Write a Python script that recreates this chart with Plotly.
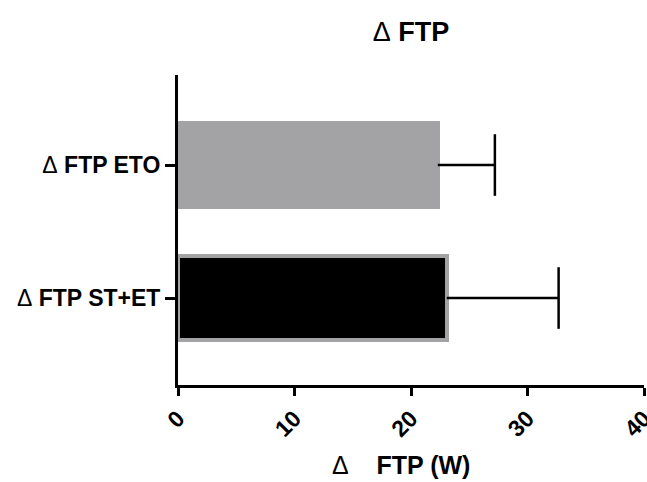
import plotly.graph_objects as go

categories = ["Δ FTP ST+ET", "Δ FTP ETO"]
values = [23.07, 22.3]
errors = [9.6, 4.9]
fills = ["#000000", "#a3a3a6"]
x_ticks = [0, 10, 20, 30, 40]
x_title = "Δ\u00a0\u00a0\u00a0\u00a0FTP (W)"

FONT = "Liberation Sans, Arial, sans-serif"
pos = list(range(len(categories)))

def lab(s):
    return s.replace("Δ", "<span style='font-weight:normal'>Δ</span>")

fig = go.Figure()
fig.add_trace(go.Bar(
    y=pos, x=values, orientation="h",
    width=[0.63] * len(pos),
    marker=dict(color=fills, line=dict(color="#a3a3a6", width=4)),
    showlegend=False, hoverinfo="skip",
))
# one-sided error bars: stem from bar end to cap
for i, (v, e) in enumerate(zip(values, errors)):
    fig.add_trace(go.Scatter(
        x=[v, v + e], y=[pos[i], pos[i]], mode="lines",
        line=dict(color="#000000", width=2.5), showlegend=False, hoverinfo="skip",
    ))
fig.add_trace(go.Scatter(
    x=[v + e for v, e in zip(values, errors)], y=pos, mode="markers",
    marker=dict(symbol="line-ns", size=44, line=dict(color="#000000", width=2.5)),
    showlegend=False, hoverinfo="skip",
))

fig.update_layout(
    width=647, height=482,
    margin=dict(l=178, r=3, t=75, b=97),
    plot_bgcolor="white", paper_bgcolor="white",
    font=dict(family=FONT, color="#000000", size=20, weight="bold"),
    title=dict(text=lab("Δ FTP"), x=0.5, xref="paper", xanchor="center",
               y=1 - 32 / 482, yref="container", yanchor="middle",
               font=dict(size=27, weight="bold", family=FONT)),
    bargap=0,
    annotations=[dict(text=lab(x_title), xref="paper", yref="paper",
                      x=0.478, y=-0.258, xanchor="center", yanchor="middle",
                      showarrow=False, font=dict(size=25, weight="bold"))],
)
fig.update_xaxes(
    range=[0, 40], tickvals=x_ticks, ticktext=[str(v) for v in x_ticks],
    tickangle=-45, showgrid=False, zeroline=False, automargin=False,
    ticklabeloverflow="allow",
    showline=True, linecolor="#000000", linewidth=3,
    ticks="outside", ticklen=8, tickwidth=2.5, tickcolor="#000000",
    tickfont=dict(size=23, weight="bold"),
)
fig.update_yaxes(
    range=[-0.654, 1.677], tickvals=pos, ticktext=[lab(c) for c in categories],
    showgrid=False, zeroline=False, automargin=False,
    showline=True, linecolor="#000000", linewidth=3,
    ticks="outside", ticklen=10, tickwidth=2.5, tickcolor="#000000",
    tickfont=dict(size=23, weight="bold"),
)

fig.write_html(
    "out.html",
    config={"displayModeBar": False},
    post_script="document.body.style.margin='0';document.body.style.overflow='hidden';",
)
